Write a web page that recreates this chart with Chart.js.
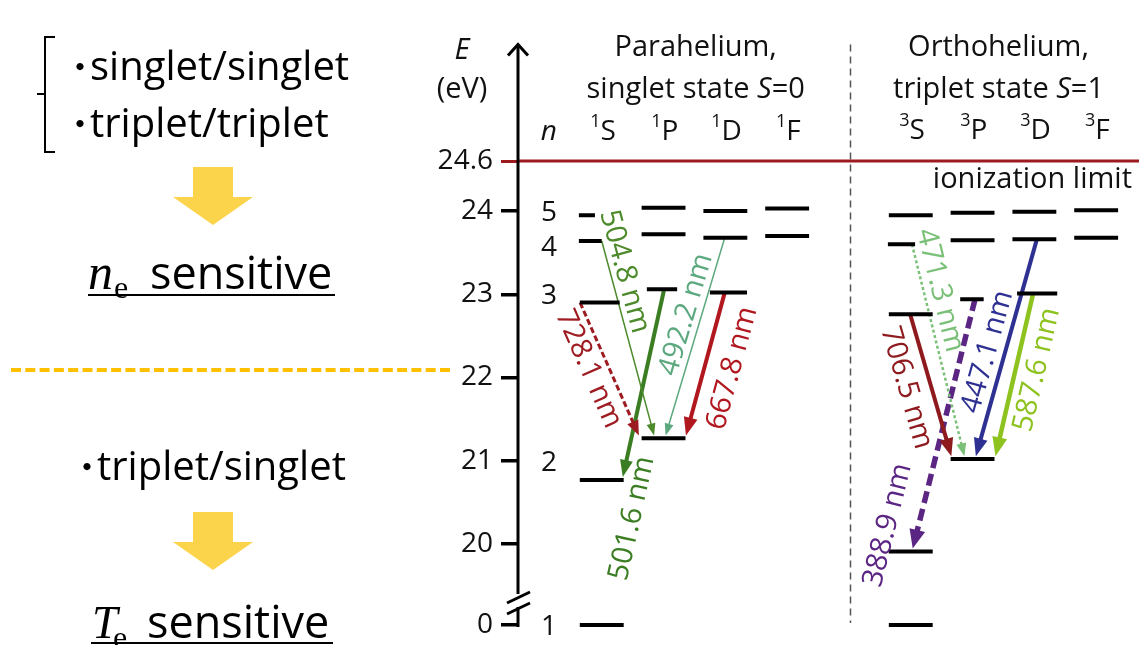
<!DOCTYPE html>
<html>
<head>
<meta charset="utf-8">
<title>Helium energy levels</title>
<script src="https://cdn.jsdelivr.net/npm/chart.js@4.4.1/dist/chart.umd.min.js"></script>
<style>
  html, body { margin: 0; padding: 0; background: #ffffff; }
  canvas { display: block; }
</style>
</head>
<body>
<canvas id="grotrian" width="1139" height="645" style="width:1139px;height:645px"></canvas>
<script>
// Helium term energies in eV, index = principal quantum number n - 1 (null = no such term)
const singletS = [0, 20.77, 22.90, 23.64, 23.95];
const singletP = [null, 21.27, 23.06, 23.72, 24.04];
const singletD = [null, null, 23.02, 23.68, 24.00];
const singletF = [null, null, null, 23.70, 24.03];
const tripletS = [0, 19.91, 22.76, 23.60, 23.95];
const tripletP = [null, 21.02, 22.94, 23.65, 23.98];
const tripletD = [null, null, 23.01, 23.66, 23.99];
const tripletF = [null, null, null, 23.68, 24.01];
const ionizationLimit = 24.6;

// Energy axis ticks
const tickValues = [0, 20, 21, 22, 23, 24, 24.6];
const tickLabels = ['0', '20', '21', '22', '23', '24', '24.6'];
const nLabels = ['1', '2', '3', '4', '5'];

// Emission lines: upper level -> lower level
const lineLabels = ['728.1 nm', '504.8 nm', '501.6 nm', '492.2 nm', '667.8 nm',
                    '706.5 nm', '471.3 nm', '447.1 nm', '587.6 nm', '388.9 nm'];
const upperTerm = ['1S', '1S', '1P', '1D', '1D', '3S', '3S', '3D', '3D', '3P'];
const upperN    = [3, 4, 3, 4, 3, 3, 4, 4, 3, 3];
const lowerTerm = ['1P', '1P', '1S', '1P', '1P', '3P', '3P', '3P', '3P', '3S'];
const lowerN    = [2, 2, 2, 2, 2, 2, 2, 2, 2, 2];

// ---------- layout & style ----------
const FONT = '"Open Sans", "DejaVu Sans", sans-serif';
const SERIF = '"Liberation Serif", "DejaVu Serif", serif';
const CJK = '"Noto Sans CJK JP", "Noto Sans", sans-serif';
const TERMS = { '1S': singletS, '1P': singletP, '1D': singletD, '1F': singletF,
                '3S': tripletS, '3P': tripletP, '3D': tripletD, '3F': tripletF };
const COLUMN = { '1S': 1, '1P': 2, '1D': 3, '1F': 4, '3S': 6, '3P': 7, '3D': 8, '3F': 9 };
const SEPARATOR_X = 5;
const X_MIN = -0.375, X_MAX = 9.673;
const Y_MIN = 18.787, Y_MAX = 26.535;
const GROUND_AT = 19.027;          // where the n = 1 ground state is drawn, below the axis break
const AXIS_TOP = 26.0;
const shown = e => (e === 0 ? GROUND_AT : e);
const N_LABEL_AT = [0, 21.0, 23.0, 23.58, 24.0];
const N_LABEL_X = 0.125;

const LEVEL_SPAN = [-0.375, 0.335];
const SPAN_OVERRIDE = {
  '1S3': [-0.375, 0.27], '1S4': [-0.39, -0.02], '1S5': [-0.39, -0.13],
  '1P3': [-0.29, 0.2], '1D3': [-0.27, 0.33],
  '3S4': [-0.39, 0.05], '3P3': [-0.22, 0.16], '3D3': [-0.30, 0.35]
};
const IONIZATION_COLOR = '#9B1B1E';

const upperDx = [-0.37, -0.02, -0.01, -0.03, -0.03, -0.03, 0.0, 0.02, -0.04, 0.02];
const lowerDx = [-0.40, -0.16, 0.31, 0.0, 0.33, -0.35, -0.14, 0.02, 0.34, 0.0];
const arrowStyle = [
  { color: '#9E1C21', width: 3,   dash: [6, 3],   head: [15, 12] },
  { color: '#4C8A2B', width: 1.5, dash: [],       head: [12, 9] },
  { color: '#3B7D23', width: 4,   dash: [],       head: [17, 13] },
  { color: '#5DA97F', width: 1.5, dash: [],       head: [12, 9] },
  { color: '#B0171E', width: 4,   dash: [],       head: [18, 14] },
  { color: '#8E1A1E', width: 4,   dash: [],       head: [18, 14] },
  { color: '#7BC079', width: 2.5, dash: [3, 2.5], head: [13, 10] },
  { color: '#2E3192', width: 4,   dash: [],       head: [18, 14] },
  { color: '#8DC21F', width: 4.5, dash: [],       head: [19, 15] },
  { color: '#5B2583', width: 5.5, dash: [12, 6],  head: [19, 16] }
];
// [fraction along the arrow, sideways offset px, reads upward]
const labelPlace = [
  [0.44, 19, false], [0.176, -14, false], [1.2, -18, true], [0.41, 15, true], [0.48, -27, true],
  [0.47, 24, false], [0.235, -16, false], [0.54, 17, true], [0.44, -21, true], [0.935, 30, true]
];
const TIP_GAP = 3;

// ---------- datasets ----------
const levelPoints = [];
Object.keys(COLUMN).forEach(term => {
  TERMS[term].forEach((e, i) => {
    if (e === null) return;
    const span = SPAN_OVERRIDE[term + (i + 1)] || LEVEL_SPAN;
    levelPoints.push({ x: COLUMN[term] + span[0], y: shown(e) },
                     { x: COLUMN[term] + span[1], y: shown(e) },
                     { x: null, y: null });
  });
});

const datasets = [{
  label: 'levels', data: levelPoints, showLine: true, spanGaps: false,
  borderColor: '#000', borderWidth: 4, pointRadius: 0, borderCapStyle: 'butt'
}, {
  label: 'ionization limit',
  data: [{ x: X_MIN, y: ionizationLimit }, { x: X_MAX, y: ionizationLimit }],
  showLine: true, borderColor: IONIZATION_COLOR, borderWidth: 3, pointRadius: 0
}];

lineLabels.forEach((label, i) => {
  const st = arrowStyle[i];
  datasets.push({
    label,
    data: [
      { x: COLUMN[upperTerm[i]] + upperDx[i], y: shown(TERMS[upperTerm[i]][upperN[i] - 1]) },
      { x: COLUMN[lowerTerm[i]] + lowerDx[i], y: shown(TERMS[lowerTerm[i]][lowerN[i] - 1]) }
    ],
    showLine: true, borderColor: st.color, borderWidth: st.width, borderDash: st.dash,
    borderCapStyle: 'butt', pointRadius: 0,
    arrow: { head: st.head, place: labelPlace[i] }
  });
});

// ---------- drawing helpers ----------
function runs(ctx, parts, x, y, align) {
  let total = 0;
  parts.forEach(p => { ctx.font = p[1]; p.w = ctx.measureText(p[0]).width; total += p.w; });
  let cx = align === 'center' ? x - total / 2 : (align === 'right' ? x - total : x);
  ctx.textAlign = 'left';
  ctx.textBaseline = 'alphabetic';
  parts.forEach(p => { ctx.font = p[1]; ctx.fillText(p[0], cx, y + (p[2] || 0)); cx += p.w; });
}
function line(ctx, pts, width, color, dash) {
  ctx.save();
  ctx.beginPath();
  ctx.lineWidth = width; ctx.strokeStyle = color; ctx.setLineDash(dash || []);
  ctx.moveTo(pts[0][0], pts[0][1]);
  for (let i = 1; i < pts.length; i++) ctx.lineTo(pts[i][0], pts[i][1]);
  ctx.stroke();
  ctx.restore();
}
function blockArrow(ctx, cx, top, color) {
  ctx.save();
  ctx.fillStyle = color;
  ctx.beginPath();
  ctx.moveTo(cx - 20, top); ctx.lineTo(cx + 20, top); ctx.lineTo(cx + 20, top + 30);
  ctx.lineTo(cx + 40, top + 30); ctx.lineTo(cx, top + 58); ctx.lineTo(cx - 40, top + 30);
  ctx.lineTo(cx - 20, top + 30); ctx.closePath(); ctx.fill();
  ctx.restore();
}

const arrowPlugin = {
  id: 'arrowPlugin',
  afterDatasetsUpdate(chart) {
    const xs = chart.scales.x, ys = chart.scales.y;
    chart.data.datasets.forEach((ds, i) => {
      if (!ds.arrow) return;
      const meta = chart.getDatasetMeta(i);
      const x0 = xs.getPixelForValue(ds.data[0].x), y0 = ys.getPixelForValue(ds.data[0].y);
      const x1 = xs.getPixelForValue(ds.data[1].x), y1 = ys.getPixelForValue(ds.data[1].y);
      const L = Math.hypot(x1 - x0, y1 - y0);
      const ux = (x1 - x0) / L, uy = (y1 - y0) / L;
      const tipX = x1 - ux * TIP_GAP, tipY = y1 - uy * TIP_GAP;
      const back = ds.arrow.head[0] * 0.8;
      meta.data[1].x = tipX - ux * back;
      meta.data[1].y = tipY - uy * back;
      meta._geom = { x0, y0, tipX, tipY, ux, uy };
    });
  },
  beforeDatasetsDraw(chart) {
    const ctx = chart.ctx, xs = chart.scales.x, ys = chart.scales.y;
    const sx = Math.round(xs.getPixelForValue(SEPARATOR_X)) + 0.5;
    line(ctx, [[sx, ys.getPixelForValue(AXIS_TOP)], [sx, ys.getPixelForValue(GROUND_AT) - 2]], 1.5, '#555', [7, 5]);
  },
  afterDatasetsDraw(chart) {
    const ctx = chart.ctx, xs = chart.scales.x, ys = chart.scales.y;
    // arrow heads and wavelength labels
    chart.data.datasets.forEach((ds, i) => {
      if (!ds.arrow) return;
      const g = chart.getDatasetMeta(i)._geom;
      const [hl, hw] = ds.arrow.head;
      const nx = -g.uy, ny = g.ux;
      const bx = g.tipX - g.ux * hl, by = g.tipY - g.uy * hl;
      ctx.save();
      ctx.fillStyle = ds.borderColor;
      ctx.beginPath();
      ctx.moveTo(g.tipX, g.tipY);
      ctx.lineTo(bx + nx * hw / 2, by + ny * hw / 2);
      ctx.lineTo(bx - nx * hw / 2, by - ny * hw / 2);
      ctx.closePath();
      ctx.fill();
      const [t, off, up] = ds.arrow.place;
      const px = g.x0 + (g.tipX - g.x0) * t + nx * off;
      const py = g.y0 + (g.tipY - g.y0) * t + ny * off;
      ctx.translate(px, py);
      ctx.rotate(Math.atan2(g.uy, g.ux) - (up ? Math.PI : 0));
      ctx.font = '29px ' + FONT;
      ctx.textAlign = 'center';
      ctx.textBaseline = 'middle';
      ctx.fillText(ds.label, 0, 0);
      ctx.restore();
    });

    // energy axis with arrow tip and break
    const ax = chart.chartArea.left;
    const top = ys.getPixelForValue(AXIS_TOP);
    const gp = ys.getPixelForValue(GROUND_AT);
    line(ctx, [[ax, top], [ax, gp - 31]], 3, '#000');
    line(ctx, [[ax - 10, top + 11], [ax, top], [ax + 10, top + 11]], 3, '#000');
    line(ctx, [[ax - 11, gp - 22], [ax + 12, gp - 33]], 3, '#000');
    line(ctx, [[ax - 11, gp - 11], [ax + 12, gp - 22]], 3, '#000');
    line(ctx, [[ax, gp - 18], [ax, gp + 2]], 3, '#000');

    ctx.fillStyle = '#111';
    // axis title
    runs(ctx, [['E', 'italic 29px ' + FONT]], 462, 59, 'center');
    runs(ctx, [['(eV)', '29px ' + FONT]], 462, 98, 'center');
    // series headings
    const paraX = xs.getPixelForValue(2.5), orthoX = xs.getPixelForValue(7.4);
    runs(ctx, [['Parahelium,', '29px ' + FONT]], paraX, 56, 'center');
    runs(ctx, [['singlet state ', '29px ' + FONT], ['S', 'italic 29px ' + FONT], ['=0', '29px ' + FONT]], paraX, 98, 'center');
    runs(ctx, [['Orthohelium,', '29px ' + FONT]], orthoX, 56, 'center');
    runs(ctx, [['triplet state ', '29px ' + FONT], ['S', 'italic 29px ' + FONT], ['=1', '29px ' + FONT]], orthoX, 98, 'center');
    // term symbols
    runs(ctx, [['n', 'italic 28px ' + FONT]], xs.getPixelForValue(N_LABEL_X), 140, 'center');
    Object.keys(COLUMN).forEach(term => {
      runs(ctx, [[term[0], '18px ' + FONT, -13], [term[1], '28px ' + FONT]],
           xs.getPixelForValue(COLUMN[term]), term[0] === '1' ? 140 : 139, 'center');
    });
    // principal quantum numbers
    nLabels.forEach((s, i) => {
      runs(ctx, [[s, '28px ' + FONT]], xs.getPixelForValue(N_LABEL_X), ys.getPixelForValue(shown(N_LABEL_AT[i])) + 10, 'center');
    });
    runs(ctx, [['ionization limit', '29px ' + FONT]], 1132, 188, 'right');

    // ---------- left panel ----------
    line(ctx, [[55, 37], [45, 37], [45, 152], [55, 152]], 2, '#000');
    line(ctx, [[37, 94], [45, 94]], 2, '#000');
    ctx.fillStyle = '#000';
    const bullet = (x, y) => {
      ctx.font = '34px ' + CJK; ctx.textAlign = 'center'; ctx.textBaseline = 'middle';
      ctx.fillText('・', x, y);
    };
    bullet(80, 67);
    runs(ctx, [['singlet/singlet', '40px ' + FONT]], 90, 80, 'left');
    bullet(80, 124);
    runs(ctx, [['triplet/triplet', '40px ' + FONT]], 90, 137, 'left');
    blockArrow(ctx, 213, 167, '#FCD44C');
    runs(ctx, [['n', 'italic 50px ' + SERIF]], 88, 289, 'left');
    runs(ctx, [['e', '32px ' + SERIF]], 114, 298, 'left');
    runs(ctx, [['sensitive', '45px ' + FONT]], 150, 289, 'left');
    line(ctx, [[88, 295], [335, 295]], 2, '#000');

    line(ctx, [[11, 370], [452, 370]], 4, '#FFC000', [10, 4.3]);

    bullet(87, 467);
    runs(ctx, [['triplet/singlet', '40px ' + FONT]], 97, 480, 'left');
    blockArrow(ctx, 213, 512, '#FCD44C');
    runs(ctx, [['T', 'italic 46px ' + SERIF]], 92, 638, 'left');
    runs(ctx, [['e', '32px ' + SERIF]], 113, 648, 'left');
    runs(ctx, [['sensitive', '45px ' + FONT]], 147, 638, 'left');
    line(ctx, [[91, 643], [333, 643]], 2, '#000');
  }
};

new Chart(document.getElementById('grotrian'), {
  type: 'scatter',
  data: { datasets },
  options: {
    responsive: false,
    animation: false,
    devicePixelRatio: 1,
    events: [],
    layout: { padding: 0 },
    plugins: { legend: { display: false }, tooltip: { enabled: false } },
    scales: {
      x: { type: 'linear', min: X_MIN, max: X_MAX, display: false },
      y: {
        type: 'linear', min: Y_MIN, max: Y_MAX,
        afterFit: s => { s.width = 518; s.paddingTop = 0; s.paddingBottom = 0; },
        afterBuildTicks: s => { s.ticks = tickValues.map(v => ({ value: shown(v) })); },
        border: { display: false },
        grid: {
          drawOnChartArea: false, drawTicks: true, tickLength: 17,
          color: c => (c.tick && c.tick.value === ionizationLimit ? IONIZATION_COLOR : '#000'),
          lineWidth: c => (c.tick && c.tick.value === ionizationLimit ? 3 : 3.5)
        },
        ticks: {
          autoSkip: false, maxRotation: 0, padding: 8, color: '#111',
          font: { family: FONT, size: 28 },
          callback: (v, i) => tickLabels[i]
        }
      }
    }
  },
  plugins: [arrowPlugin]
});
</script>
</body>
</html>
